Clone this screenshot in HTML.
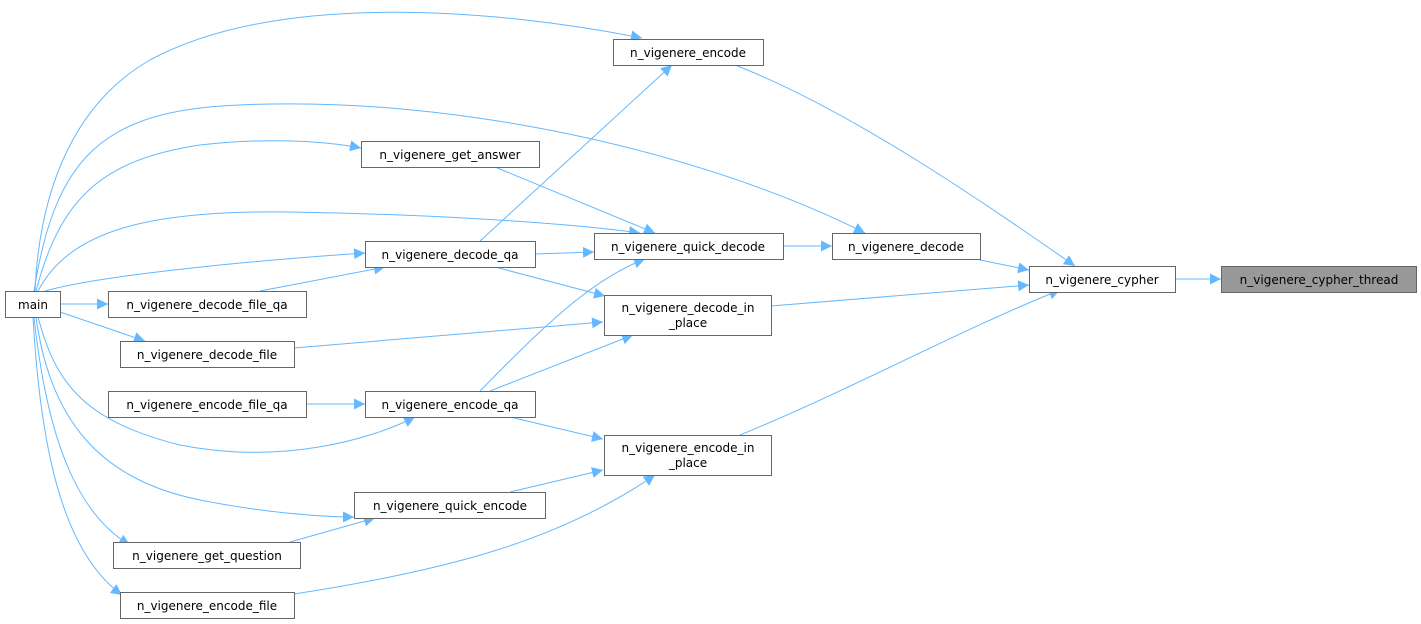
<!DOCTYPE html>
<html><head><meta charset="utf-8"><style>
html,body{margin:0;padding:0;background:#fff;}
svg{display:block;}
text{font-family:"DejaVu Sans","Liberation Sans",sans-serif;font-size:12px;fill:#000;}
</style></head><body>
<svg width="1421" height="624" viewBox="0 0 1421 624" xmlns="http://www.w3.org/2000/svg">
<defs>
<marker id="a" viewBox="0 0 10 10" refX="10" refY="5" markerWidth="11" markerHeight="11" markerUnits="userSpaceOnUse" orient="auto">
<path d="M0,0 L10,5 L0,10 z" fill="#63b8ff"/>
</marker>
</defs>
<g fill="none" stroke="#63b8ff" stroke-width="1" marker-end="url(#a)">
<path d="M1174,279 L1221,279"/>
<path d="M735,65 C850,110 980,200 1075,266"/>
<path d="M980,260 L1029,270"/>
<path d="M771,306 L1029,285"/>
<path d="M740,435 C850,390 960,330 1060,290"/>
<path d="M783,246 L832,246"/>
<path d="M35,291 C40,180 80,100 150,60 C280,-10 500,10 642,38"/>
<path d="M34,291 C55,160 100,110 240,105 C450,95 700,150 865,233"/>
<path d="M36,291 C60,200 100,160 200,145 C260,138 320,140 361,148"/>
<path d="M38,291 C70,230 150,210 290,212 C420,214 560,222 640,233"/>
<path d="M45,291 C100,275 260,260 365,253"/>
<path d="M60,304 L108,304"/>
<path d="M60,312 L145,341"/>
<path d="M38,317 C55,380 80,420 180,445 C280,465 370,440 415,417"/>
<path d="M36,317 C50,420 100,480 200,500 C260,512 320,517 354,517"/>
<path d="M34,317 C45,420 70,510 130,545"/>
<path d="M33,317 C40,440 60,550 122,595"/>
<path d="M260,291 L385,267"/>
<path d="M294,348 L603,322"/>
<path d="M306,404 L365,404"/>
<path d="M290,542 L375,518"/>
<path d="M294,594 C450,570 560,540 655,475"/>
<path d="M495,167 L655,233"/>
<path d="M535,254 L594,252"/>
<path d="M480,241 L672,65"/>
<path d="M495,267 L605,296"/>
<path d="M480,391 C540,330 590,280 645,259"/>
<path d="M490,391 L633,335"/>
<path d="M510,417 L603,439"/>
<path d="M510,492 L603,470"/>
</g>
<g stroke="#666" stroke-width="1" fill="#fff">
<rect x="5.5" y="291.5" width="55" height="26"/>
<rect x="108.5" y="291.5" width="198" height="26"/>
<rect x="120.5" y="341.5" width="174" height="26"/>
<rect x="108.5" y="391.5" width="198" height="26"/>
<rect x="113.5" y="542.5" width="187" height="26"/>
<rect x="120.5" y="592.5" width="174" height="26"/>
<rect x="361.5" y="141.5" width="178" height="26"/>
<rect x="365.5" y="241.5" width="170" height="26"/>
<rect x="365.5" y="391.5" width="170" height="26"/>
<rect x="354.5" y="492.5" width="191" height="26"/>
<rect x="613.5" y="39.5" width="150" height="26"/>
<rect x="594.5" y="233.5" width="189" height="26"/>
<rect x="604.5" y="295.5" width="167" height="40"/>
<rect x="604.5" y="435.5" width="167" height="40"/>
<rect x="832.5" y="233.5" width="148" height="26"/>
<rect x="1029.5" y="266.5" width="146" height="26"/>
<rect x="1221.5" y="266.5" width="195" height="26" fill="#999"/>
</g>
<g text-anchor="middle">
<text x="33" y="309">main</text>
<text x="207" y="309">n_vigenere_decode_file_qa</text>
<text x="207" y="359">n_vigenere_decode_file</text>
<text x="207" y="409">n_vigenere_encode_file_qa</text>
<text x="207" y="560">n_vigenere_get_question</text>
<text x="207" y="610">n_vigenere_encode_file</text>
<text x="450" y="159">n_vigenere_get_answer</text>
<text x="450" y="259">n_vigenere_decode_qa</text>
<text x="450" y="409">n_vigenere_encode_qa</text>
<text x="450" y="510">n_vigenere_quick_encode</text>
<text x="688" y="57">n_vigenere_encode</text>
<text x="688" y="251">n_vigenere_quick_decode</text>
<text x="688" y="312">n_vigenere_decode_in</text>
<text x="688" y="327">_place</text>
<text x="688" y="452">n_vigenere_encode_in</text>
<text x="688" y="467">_place</text>
<text x="906" y="251">n_vigenere_decode</text>
<text x="1102" y="284">n_vigenere_cypher</text>
<text x="1319" y="284">n_vigenere_cypher_thread</text>
</g>
</svg>
</body></html>
